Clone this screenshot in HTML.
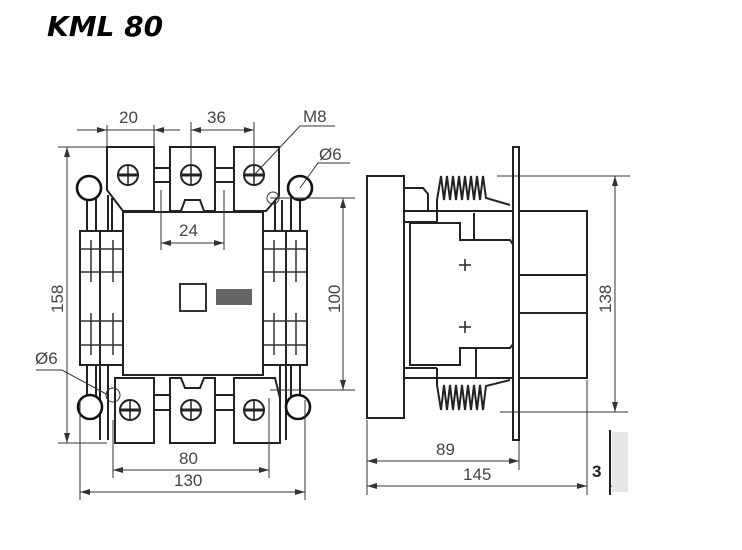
<!DOCTYPE html>
<html><head><meta charset="utf-8"><style>
html,body{margin:0;padding:0;background:#fff;width:742px;height:550px;overflow:hidden}
svg{display:block}
text{font-family:"Liberation Sans",sans-serif;fill:#444}
</style></head><body>
<svg width="742" height="550" viewBox="0 0 742 550" xmlns="http://www.w3.org/2000/svg">
<defs>
<marker id="a" viewBox="0 0 10 6" refX="10" refY="3" markerWidth="10" markerHeight="6" orient="auto-start-reverse" markerUnits="userSpaceOnUse"><path d="M0,0L10,3L0,6z" fill="#333"/></marker>
<g id="screw"><circle r="10" fill="#fff" stroke="#222" stroke-width="2"/><line x1="-9" y1="0" x2="9" y2="0" stroke="#222" stroke-width="3"/><line x1="0" y1="-9" x2="0" y2="9" stroke="#222" stroke-width="1.5"/></g>
</defs>
<text x="47" y="36" style="font-family:'DejaVu Sans','Liberation Sans',sans-serif;font-weight:bold;font-style:italic;font-size:28px;fill:#000">KML 80</text>

<g fill="none" stroke="#222" stroke-width="2">
<rect x="80" y="231" width="43" height="134"/><line x1="100" y1="231" x2="100" y2="365"/>
<rect x="263" y="231" width="44" height="134"/><line x1="286" y1="231" x2="286" y2="365"/>
<path d="M87,198V231M96,198V231M87,365V398M96,365V398M108,195V231M112,198V231"/>
<path d="M291,198V231M300,198V231M291,365V398M300,365V398M275,200V231M282,200V231"/>
<path d="M100,365V440M108,365V440M280,365V440M286,365V440"/>
<rect x="123" y="212" width="140" height="163"/>
<path d="M107,147H154V211H123L107,190Z"/>
<path d="M170,147H215V211H204L200,200H185L181,211H170Z"/>
<path d="M234,147H279V196L266,211H234Z"/>
<path d="M154,168H170V182H154M215,168H234V182H215"/>
<path d="M115,378H154V443H115Z"/>
<path d="M170,378H181L185,388H200L204,378H215V443H170Z"/>
<path d="M234,378H275L280,398V443H234Z"/>
<path d="M154,395H170V410H154M215,395H234V410H215"/>
</g>
<g fill="#fff" stroke="#111" stroke-width="2.6">
<circle cx="89" cy="188" r="12"/><circle cx="300" cy="188" r="12"/>
<circle cx="90" cy="407" r="12"/><circle cx="298" cy="407" r="12"/>
</g>
<g stroke="#333" stroke-width="1.5">
<path d="M80,249H123M80,272H123M80,321H123M80,345H123M263,249H307M263,272H307M263,321H307M263,345H307"/>
<path d="M91,240V282M113,240V282M91,313V355M113,313V355M274,240V282M296,240V282M274,313V355M296,313V355"/>
</g>
<use href="#screw" x="128" y="175"/><use href="#screw" x="191" y="175"/><use href="#screw" x="254" y="175"/>
<use href="#screw" x="130" y="410"/><use href="#screw" x="191" y="410"/><use href="#screw" x="254" y="410"/>
<rect x="180" y="284" width="26" height="27" fill="none" stroke="#333" stroke-width="2"/>
<rect x="216" y="289" width="36" height="16" fill="#666"/>

<g stroke="#333" stroke-width="1" fill="none">
<path d="M107,125V147M154,125V211M191,122V165M254,122V165"/>
<line x1="77" y1="130" x2="107" y2="130" marker-end="url(#a)"/><line x1="180" y1="130" x2="154" y2="130" marker-end="url(#a)"/><line x1="107" y1="130" x2="154" y2="130"/>
<line x1="191" y1="130" x2="254" y2="130" marker-start="url(#a)" marker-end="url(#a)"/>
<path d="M161,190V250M224,190V250"/>
<line x1="161" y1="243" x2="224" y2="243" marker-start="url(#a)" marker-end="url(#a)"/>
<path d="M58,147H107M58,443H107"/>
<line x1="67" y1="147" x2="67" y2="443" marker-start="url(#a)" marker-end="url(#a)"/>
<path d="M270,198H355M270,390H355"/>
<line x1="343" y1="198" x2="343" y2="390" marker-start="url(#a)" marker-end="url(#a)"/>
<path d="M113,420V478M269,398V478M80,400V500M305,400V500"/>
<line x1="113" y1="470" x2="269" y2="470" marker-start="url(#a)" marker-end="url(#a)"/>
<line x1="80" y1="492" x2="305" y2="492" marker-start="url(#a)" marker-end="url(#a)"/>
<path d="M254,175L300,126H335M300,188L318,163H350M36,370H62L108,395"/>
<circle cx="273" cy="198" r="6"/><circle cx="113" cy="395" r="7"/>
</g>
<g font-size="17">
<text x="119" y="123">20</text><text x="207" y="123">36</text><text x="303" y="122">M8</text>
<text x="319" y="160">Ø6</text><text x="179" y="236">24</text><text x="35" y="364">Ø6</text>
<text x="179" y="464">80</text><text x="174" y="486">130</text>
<text transform="translate(63,313) rotate(-90)">158</text>
<text transform="translate(340,313) rotate(-90)">100</text>
</g>

<g fill="none" stroke="#222" stroke-width="2">
<rect x="367" y="176" width="37" height="242"/>
<path d="M404,188H423L428,194V211"/>
<path d="M404,211H587V378H404"/>
<path d="M404,222H437M404,368H437"/>
<path d="M410,223H460V240H510L514,246V343L510,348H460V365H410Z"/>
<path d="M474,213V240M476,348V378M437,200V222M437,368V385"/>
<path d="M515,275H587M515,313H587"/>
<rect x="513" y="147" width="6" height="293" fill="#fff"/>
<path d="M437,200L441,176L444,200L447,176L450,200L453,176L456,200L459,176L462,200L465,176L468,200L471,176L474,200L477,176L480,200L483,176L486,198L510,205"/>
<path d="M437,385L441,410L444,385L447,410L450,385L453,410L456,385L459,410L462,385L465,410L468,385L471,410L474,385L477,410L480,385L483,410L486,386L510,380"/>
</g>
<g stroke="#222" stroke-width="1.5"><path d="M459,265H471M465,259V271M459,327H471M465,321V333"/></g>
<g stroke="#333" stroke-width="1" fill="none">
<path d="M497,176H630M500,412H628"/>
<line x1="615" y1="176" x2="615" y2="412" marker-start="url(#a)" marker-end="url(#a)"/>
<path d="M367,420V495M519,440V470M587,380V495M610,430V495"/>
<line x1="367" y1="461" x2="519" y2="461" marker-start="url(#a)" marker-end="url(#a)"/>
<line x1="367" y1="486" x2="587" y2="486" marker-start="url(#a)" marker-end="url(#a)"/>
<line x1="625" y1="486" x2="610" y2="486" marker-end="url(#a)"/>
</g>
<rect x="612" y="432" width="16" height="60" fill="#e6e6e6"/>
<line x1="610" y1="430" x2="610" y2="495" stroke="#222" stroke-width="2"/>
<g font-size="17"><text x="436" y="455">89</text><text x="463" y="480">145</text>
<text x="592" y="477" style="fill:#222;font-weight:bold">3</text>
<text transform="translate(611,313) rotate(-90)">138</text></g>
</svg>
</body></html>
